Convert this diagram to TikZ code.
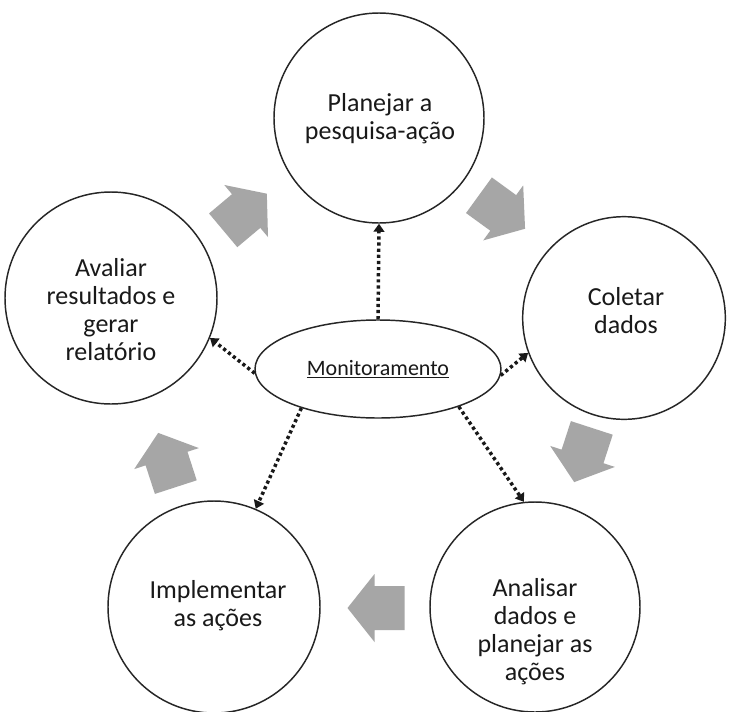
\documentclass[tikz,border=0pt]{standalone}
\usepackage{fontspec}
\setmainfont{Carlito}
\usetikzlibrary{shapes.geometric,arrows.meta}
\definecolor{arrowgray}{HTML}{A6A6A6}
\tikzset{
  stage/.style={circle,draw=black!85,line width=1.1pt,inner sep=0pt,minimum size=#1},
  stagetext/.style={align=center,font=\fontsize{19.5}{21}\selectfont,text=black!90},
  dotarrow/.style={line width=2.6pt,dash pattern=on 2.4pt off 2.2pt,-{Triangle[length=6pt,width=8pt]},black!90},
  blockarr/.pic={\fill[arrowgray] (28.5,0) -- (1.5,34) -- (1.5,22) -- (-28.5,22) -- (-28.5,-22) -- (1.5,-22) -- (1.5,-34) -- cycle;}
}
\begin{document}
\begin{tikzpicture}[x=0.75pt,y=-0.75pt]
\useasboundingbox[fill=white] (0,0) rectangle (732,711);
% circles
\node[stage=157.5pt] (c1) at (379,118) {};
\node[stage=152pt] (c2) at (624,318) {};
\node[stage=157.5pt] (c3) at (535,607) {};
\node[stage=159pt] (c4) at (214,607) {};
\node[stage=159pt] (c5) at (111,298) {};
% texts
\node[stagetext] (t1) at (380,119) {Planejar a\\pesquisa-ação};
\node[stagetext] (t2) at (626,311) {Coletar\\dados};
\node[stagetext] (t3) at (535,632) {Analisar\\dados e\\planejar as\\ações};
\node[stagetext] (t4) at (218,606) {Implementar\\as ações};
\node[stagetext] (t5) at (111,310) {Avaliar\\resultados e\\gerar\\relatório};
% central ellipse
\node[ellipse,draw=black!85,line width=1.1pt,inner sep=0pt,minimum width=184.5pt,minimum height=73.5pt,
      font=\fontsize{16.5}{18}\selectfont,text=black!90] (mon) at (378,369) {\underline{Monitoramento}};
% dotted arrows
\draw[dotarrow] (mon.90) -- (c1.-90);
\draw[dotarrow] (mon.-3) -- (c2.200);
\draw[dotarrow] (mon.182) -- (c5.-22);
\draw[dotarrow] (mon.207) -- (c4.67);
\draw[dotarrow] (mon.-25) -- (c3.96);
% block arrows
\pic[rotate=40] at (245,212) {blockarr};
\pic[rotate=-36] at (502,212) {blockarr};
\pic[rotate=-108] at (583,455) {blockarr};
\pic[rotate=180] at (376,608) {blockarr};
\pic[rotate=108] at (167,460) {blockarr};
\end{tikzpicture}
\end{document}
